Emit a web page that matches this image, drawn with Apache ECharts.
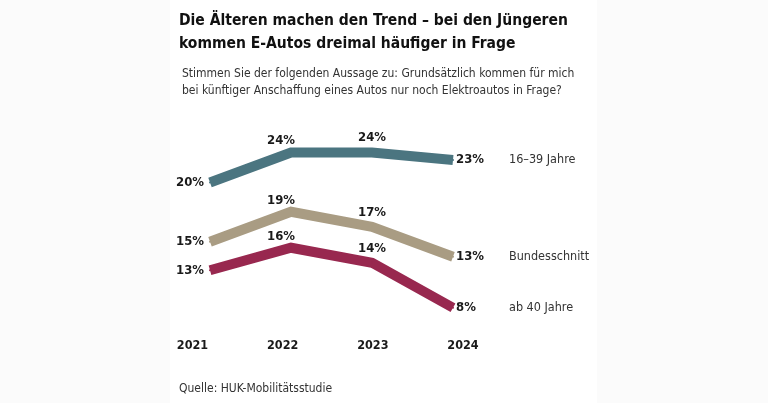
<!DOCTYPE html>
<html><head><meta charset="utf-8">
<script src="https://cdn.jsdelivr.net/npm/echarts@6/dist/echarts.min.js"></script>
<style>html,body{margin:0;padding:0;background:#fbfbfb;}#c{width:768px;height:403px;}</style>
</head><body><div id="c"></div>
<script>
const years = ['2021', '2022', '2023', '2024'];
const young = [20, 24, 24, 23];
const avg = [15, 19, 17, 13];
const old = [13, 16, 14, 8];
const seriesNames = ['16–39 Jahre', 'Bundesschnitt', 'ab 40 Jahre'];
const colors = ['#4b7580', '#a99c83', '#98284f'];
const FONT = '"DejaVu Sans Condensed", "Liberation Sans Narrow", sans-serif';

function mkData(vals) {
  return vals.map((v, i) => {
    const last = i === vals.length - 1;
    let label;
    if (i === 0) label = { show: true, position: 'left', distance: 5 };
    else if (last) label = { show: false };
    else if (i === 1) label = { show: true, position: 'top', distance: 4, padding: [0, 20, 0, 0] };
    else label = { show: true, position: 'top', distance: 7 };
    return { value: v, label };
  });
}

function mkSeries(vals, idx) {
  return {
    type: 'line', name: seriesNames[idx], xAxisIndex: 0, yAxisIndex: idx,
    data: mkData(vals), symbol: 'circle', symbolSize: 2, showSymbol: true,
    itemStyle: { color: colors[idx] }, smooth: false,
    lineStyle: { width: 10, color: colors[idx], cap: 'butt', join: 'miter' },
    label: { show: true, formatter: p => p.value + '%', fontFamily: FONT, fontWeight: 'bold', fontSize: 13, color: '#1a1a1a' },
    labelLayout: { hideOverlap: false },
    endLabel: {
      show: true, distance: 3,
      formatter: p => '{v|' + p.value + '%}{n|' + seriesNames[idx] + '}',
      rich: {
        v: { fontFamily: FONT, fontWeight: 'bold', fontSize: 13, color: '#1a1a1a', width: 53 },
        n: { fontFamily: FONT, fontSize: 12.5, color: '#333' }
      }
    },
    silent: true, animation: false
  };
}

const chart = echarts.init(document.getElementById('c'), null, { renderer: 'canvas' });
const yBase = { type: 'value', show: false, interval: 1 };
chart.setOption({
  backgroundColor: '#fbfbfb',
  animation: false,
  graphic: [{ type: 'rect', shape: { x: 170, y: 0, width: 427, height: 403 }, style: { fill: '#ffffff' }, z: -10 }],
  title: [
    { text: 'Die Älteren machen den Trend – bei den Jüngeren\nkommen E-Autos dreimal häufiger in Frage', left: 174, top: 4,
      textStyle: { fontFamily: FONT, fontWeight: 'bold', fontSize: 15.5, lineHeight: 23, color: '#111' } },
    { text: 'Stimmen Sie der folgenden Aussage zu: Grundsätzlich kommen für mich\nbei künftiger Anschaffung eines Autos nur noch Elektroautos in Frage?', left: 177, top: 60,
      textStyle: { fontFamily: FONT, fontWeight: 'normal', fontSize: 12, lineHeight: 17, color: '#333' } },
    { text: 'Quelle: HUK-Mobilitätsstudie', left: 174, top: 378,
      textStyle: { fontFamily: FONT, fontWeight: 'normal', fontSize: 12, color: '#333' } }
  ],
  grid: [
    { left: 210, right: 315, top: 100, height: 225 },
    { left: 192.5, right: 305, top: 330, height: 1 }
  ],
  xAxis: [
    { type: 'category', gridIndex: 0, data: years, boundaryGap: false, show: false },
    { type: 'category', gridIndex: 1, data: years, boundaryGap: false,
      axisLine: { show: false }, axisTick: { show: false }, splitLine: { show: false },
      axisLabel: { margin: 8, fontFamily: FONT, fontWeight: 'bold', fontSize: 12.5, color: '#1a1a1a' } }
  ],
  yAxis: [
    Object.assign({}, yBase, { gridIndex: 0, min: 1, max: 31 }),
    Object.assign({}, yBase, { gridIndex: 0, min: 3.9, max: 33.9 }),
    Object.assign({}, yBase, { gridIndex: 0, min: 5.7, max: 35.7 }),
    { type: 'value', gridIndex: 1, show: false, min: 0, max: 1 }
  ],
  series: [
    mkSeries(young, 0), mkSeries(avg, 1), mkSeries(old, 2),
    { type: 'line', xAxisIndex: 1, yAxisIndex: 3, data: [], silent: true }
  ]
});
</script></body></html>
